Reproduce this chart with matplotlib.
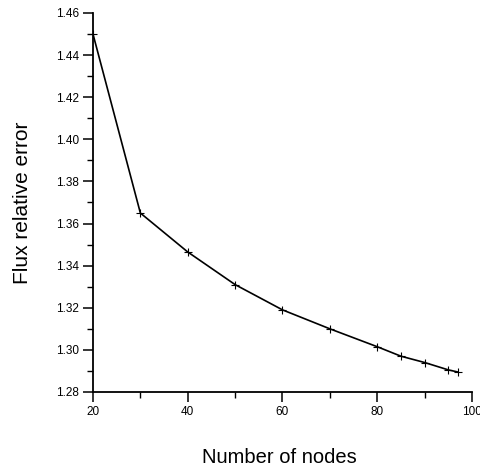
import matplotlib
matplotlib.use("Agg")
import matplotlib.pyplot as plt
from matplotlib.ticker import MultipleLocator, FormatStrFormatter

# values
nodes = [20, 30, 40, 50, 60, 70, 80, 85, 90, 95, 97]
flux_err = [1.450, 1.365, 1.3465, 1.331, 1.319, 1.310, 1.3015, 1.297, 1.294, 1.2905, 1.2895]

x_ticks = [20, 40, 60, 80, 100]
y_ticks = [1.28, 1.30, 1.32, 1.34, 1.36, 1.38, 1.40, 1.42, 1.44, 1.46]

fig = plt.figure(figsize=(4.81, 4.72), dpi=100)
ax = fig.add_axes([0.1933, 0.1695, 0.788, 0.803])

ax.plot(nodes, flux_err, color="black", lw=1.2, marker="+", ms=6, mew=0.8)

ax.set_xlim(20, 100)
ax.set_ylim(1.28, 1.46)
ax.set_xticks(x_ticks)
ax.set_yticks(y_ticks)
ax.xaxis.set_minor_locator(MultipleLocator(10))
ax.yaxis.set_minor_locator(MultipleLocator(0.01))
ax.yaxis.set_major_formatter(FormatStrFormatter("%.2f"))

for side in ["top", "right"]:
    ax.spines[side].set_visible(False)
for side in ["left", "bottom"]:
    ax.spines[side].set_linewidth(1.3)

tick_font = ["Liberation Sans Narrow", "Liberation Sans"]
ax.tick_params(which="major", direction="out", length=7, width=1.1,
               labelsize=8.5, pad=3)
ax.tick_params(which="minor", direction="out", length=4, width=1.0)
for lab in ax.get_xticklabels() + ax.get_yticklabels():
    lab.set_family(tick_font)

ax.set_xlabel("Number of nodes", fontsize=14.5, family="Liberation Sans")
ax.set_ylabel("Flux relative error", fontsize=15, family="Liberation Sans")
ax.xaxis.set_label_coords(0.493, -0.148)
ax.yaxis.set_label_coords(-0.16, 0.5)

fig.savefig("out.png", dpi=100)
